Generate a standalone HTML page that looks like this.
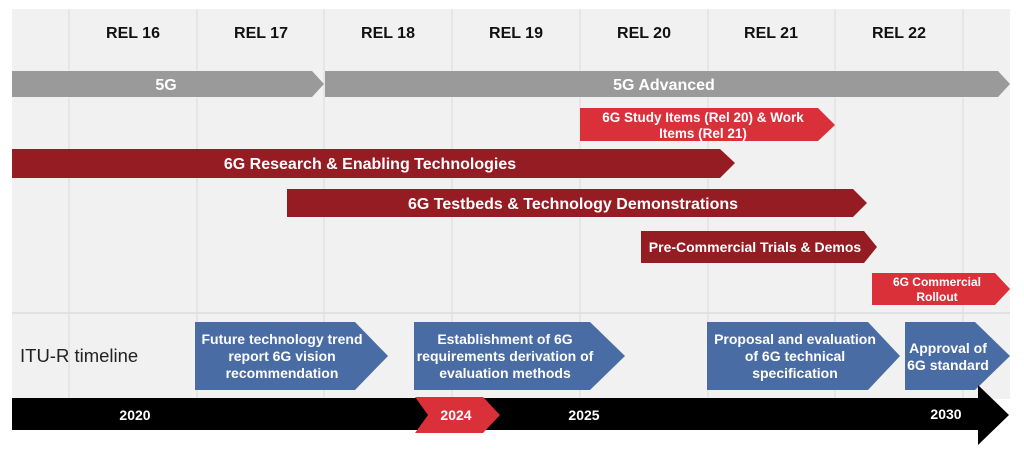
<!DOCTYPE html>
<html><head><meta charset="utf-8"><style>
html,body{margin:0;padding:0;background:#fff;}
svg{display:block;font-family:"Liberation Sans",Arial,sans-serif;}
text{font-weight:bold;}
</style></head><body>
<svg width="1024" height="452" viewBox="0 0 1024 452">
<rect x="12" y="9" width="998" height="390" fill="#f1f1f1"/>
<g stroke="#dcdcdc" stroke-width="1">
<line x1="69" y1="9" x2="69" y2="399"/><line x1="197" y1="9" x2="197" y2="399"/><line x1="324" y1="9" x2="324" y2="399"/><line x1="452" y1="9" x2="452" y2="399"/><line x1="580" y1="9" x2="580" y2="399"/><line x1="708" y1="9" x2="708" y2="399"/><line x1="835" y1="9" x2="835" y2="399"/><line x1="963" y1="9" x2="963" y2="399"/>
<line x1="12" y1="313" x2="1010" y2="313" stroke-width="1.5"/>
</g>
<g font-size="16" fill="#111" text-anchor="middle">
<text x="133" y="38">REL 16</text>
<text x="261" y="38">REL 17</text>
<text x="388" y="38">REL 18</text>
<text x="516" y="38">REL 19</text>
<text x="644" y="38">REL 20</text>
<text x="771" y="38">REL 21</text>
<text x="899" y="38">REL 22</text>
</g>
<g><polygon points="12,71 312,71 324,84 312,97 12,97" fill="#9a9a9b"/><text x="166" y="90" font-size="16" fill="#fff" text-anchor="middle">5G</text></g>
<g><polygon points="325,71 998,71 1010,84 998,97 325,97" fill="#9a9a9b"/><text x="664" y="90" font-size="16" fill="#fff" text-anchor="middle">5G Advanced</text></g>
<g><polygon points="580,108 818,108 835,125 818,141 580,141" fill="#d9303a"/><text x="703" y="122" font-size="13.5" fill="#fff" text-anchor="middle">6G Study Items (Rel 20) &amp; Work</text><text x="703" y="138" font-size="13.5" fill="#fff" text-anchor="middle">Items (Rel 21)</text></g>
<g><polygon points="12,149 720,149 735,163 720,178 12,178" fill="#951c23"/><text x="370" y="169" font-size="16" fill="#fff" text-anchor="middle">6G Research &amp; Enabling Technologies</text></g>
<g><polygon points="287,189 853,189 867,203 853,217 287,217" fill="#951c23"/><text x="573" y="209" font-size="16" fill="#fff" text-anchor="middle">6G Testbeds &amp; Technology Demonstrations</text></g>
<g><polygon points="641,231 864,231 877,247 864,263 641,263" fill="#951c23"/><text x="755" y="252" font-size="14" fill="#fff" text-anchor="middle">Pre-Commercial Trials &amp; Demos</text></g>
<g><polygon points="872,273 995,273 1010,289 995,305 872,305" fill="#d9303a"/><text x="937" y="286" font-size="12" fill="#fff" text-anchor="middle">6G Commercial</text><text x="937" y="301" font-size="12" fill="#fff" text-anchor="middle">Rollout</text></g>
<text x="20" y="362" font-size="18.5" fill="#222" style="font-weight:normal">ITU-R timeline</text>
<g font-size="14" fill="#fff" text-anchor="middle">
<g><polygon points="195,322 355,322 388,356 355,390 195,390" fill="#4a6ca4"/><text x="282" y="344">Future technology trend</text><text x="282" y="361">report 6G vision</text><text x="282" y="378">recommendation</text></g>
<g><polygon points="414,322 590,322 625,356 590,390 414,390" fill="#4a6ca4"/><text x="505" y="344">Establishment of 6G</text><text x="505" y="361">requirements derivation of</text><text x="505" y="378">evaluation methods</text></g>
<g><polygon points="707,322 868,322 900,356 868,390 707,390" fill="#4a6ca4"/><text x="795" y="344">Proposal and evaluation</text><text x="795" y="361">of 6G technical</text><text x="795" y="378">specification</text></g>
<g><polygon points="905,322 975,322 1010,356 975,390 905,390" fill="#4a6ca4"/><text x="948" y="353">Approval of</text><text x="948" y="370">6G standard</text></g>
</g>
<g><polygon points="12,398 978,398 978,385 1009,415 978,445 978,430 12,430" fill="#000"/></g>
<g><polygon points="415,397 483,397 500,415 483,433 415,433 428,415" fill="#d9303a"/></g>
<g font-size="14" fill="#fff" text-anchor="middle">
<text x="135" y="420">2020</text>
<text x="456" y="420">2024</text>
<text x="584" y="420">2025</text>
<text x="946" y="419">2030</text>
</g>
</svg>
</body></html>
